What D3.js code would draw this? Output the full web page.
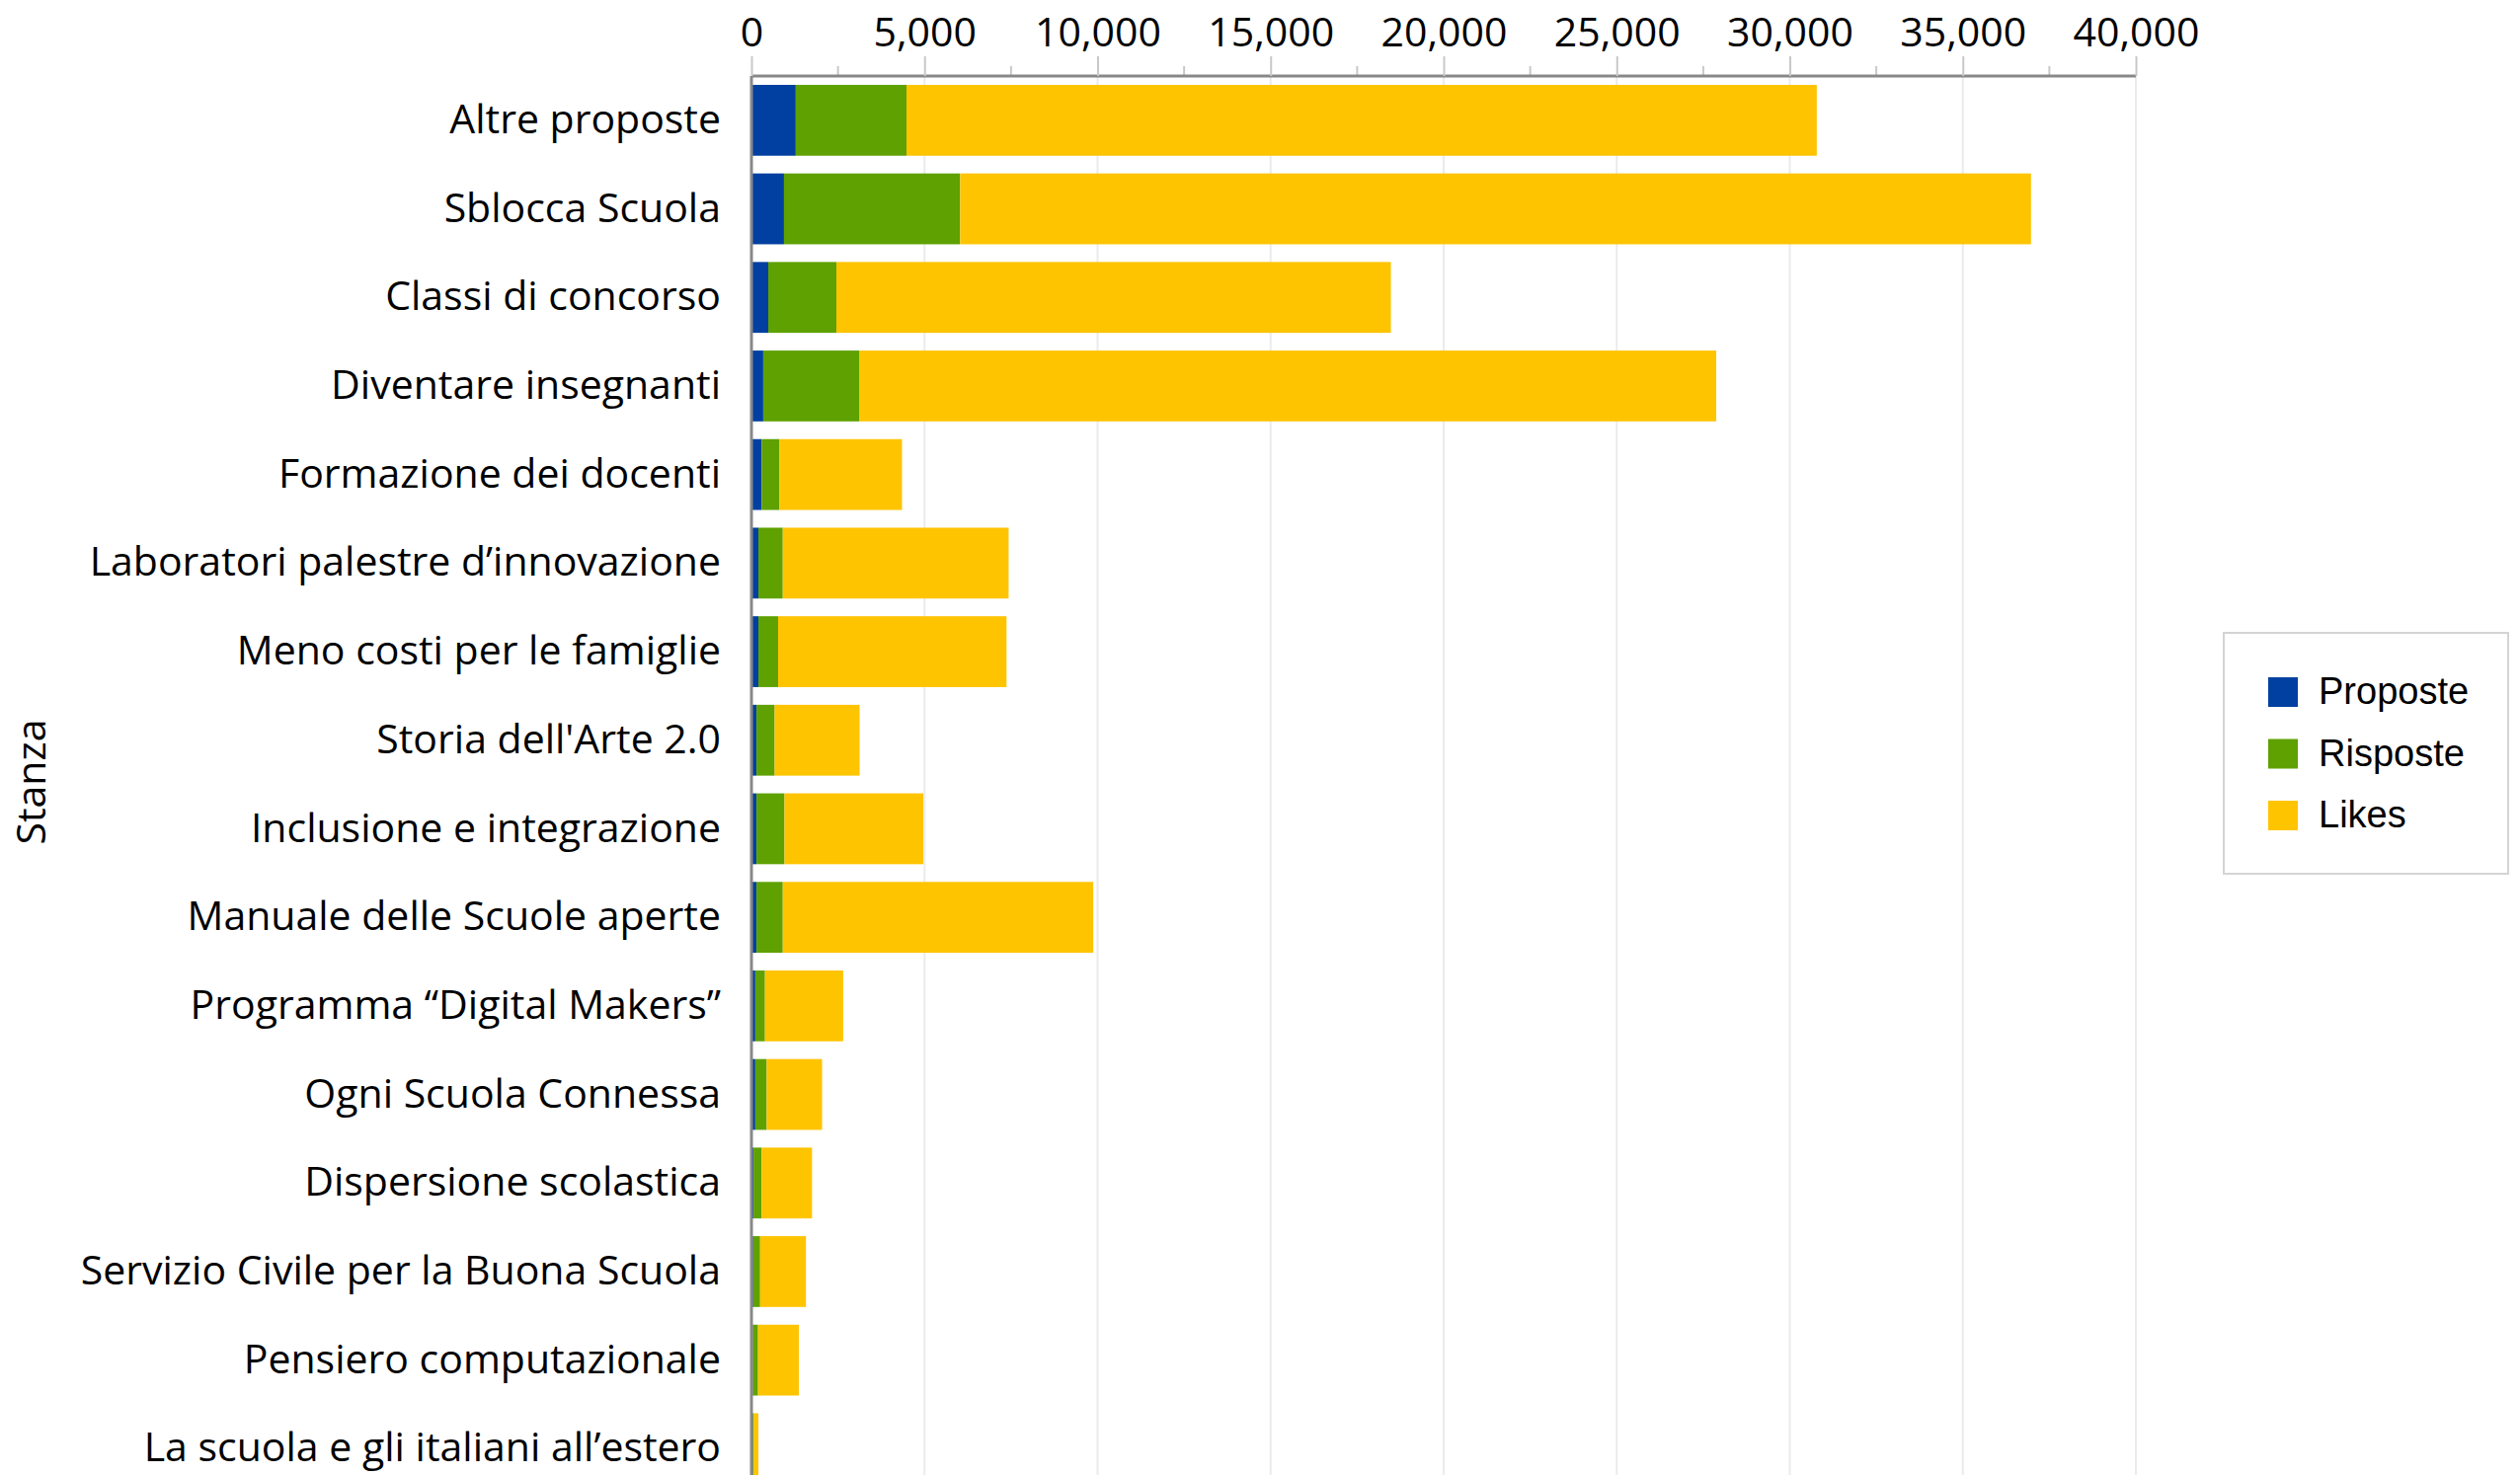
<!DOCTYPE html>
<html>
<head>
<meta charset="utf-8">
<script src="https://cdn.jsdelivr.net/npm/d3@7"></script>
<style>
  html, body { margin: 0; padding: 0; background: #fff; overflow: hidden; }
  svg { display: block; }
</style>
</head>
<body>
<div id="chart"></div>
<script>
'use strict';

// stanze (categories), top to bottom
var stanze = [
  'Altre proposte',
  'Sblocca Scuola',
  'Classi di concorso',
  'Diventare insegnanti',
  'Formazione dei docenti',
  'Laboratori palestre d\u2019innovazione',
  'Meno costi per le famiglie',
  'Storia dell\'Arte 2.0',
  'Inclusione e integrazione',
  'Manuale delle Scuole aperte',
  'Programma \u201cDigital Makers\u201d',
  'Ogni Scuola Connessa',
  'Dispersione scolastica',
  'Servizio Civile per la Buona Scuola',
  'Pensiero computazionale',
  'La scuola e gli italiani all\u2019estero'
];

var proposte = [1280, 940, 485, 340, 295, 200, 200, 145, 145, 145, 110, 110, 60, 50, 40, 30];
var risposte = [3200, 5090, 1970, 2770, 515, 705, 570, 525, 810, 760, 280, 330, 235, 200, 150, 30];
var likes    = [26300, 30940, 16020, 24765, 3540, 6525, 6600, 2455, 4010, 8970, 2260, 1600, 1455, 1325, 1180, 140];

var seriesNames = ['Proposte', 'Risposte', 'Likes'];
var seriesColors = ['#0140A0', '#5EA100', '#FFC400'];

var xTicks = [0, 5000, 10000, 15000, 20000, 25000, 30000, 35000, 40000];

(function () {
  var width = 2552, height = 1494;
  var plotLeft = 761, plotRight = 2163, plotTop = 77;
  var step = 89.7;

  var rows = stanze.map(function (s, i) {
    return { stanza: s, Proposte: proposte[i], Risposte: risposte[i], Likes: likes[i] };
  });

  var svg = d3.select('#chart').append('svg')
    .attr('width', width)
    .attr('height', height)
    .attr('viewBox', [0, 0, width, height]);

  var x = d3.scaleLinear().domain([0, 40000]).range([plotLeft, plotRight]);
  var y = d3.scaleBand()
    .domain(stanze)
    .range([plotTop, plotTop + step * stanze.length])
    .paddingInner(0.2)
    .paddingOuter(0.1);

  var labelFont = '"Open Sans", "Lucida Grande", sans-serif';

  // gridlines
  svg.append('g')
    .selectAll('line')
    .data(xTicks.slice(1))
    .join('line')
    .attr('x1', function (d) { return x(d); })
    .attr('x2', function (d) { return x(d); })
    .attr('y1', plotTop)
    .attr('y2', height)
    .attr('stroke', '#ebebeb')
    .attr('stroke-width', 2);

  // minor ticks
  svg.append('g')
    .selectAll('line')
    .data(xTicks.slice(0, -1).map(function (d) { return d + 2500; }))
    .join('line')
    .attr('x1', function (d) { return x(d); })
    .attr('x2', function (d) { return x(d); })
    .attr('y1', plotTop - 10)
    .attr('y2', plotTop)
    .attr('stroke', '#c8c8c8')
    .attr('stroke-width', 2);

  // stacked bars
  var stacked = d3.stack().keys(seriesNames)(rows);

  svg.append('g')
    .selectAll('g')
    .data(stacked)
    .join('g')
    .attr('fill', function (d, i) { return seriesColors[i]; })
    .selectAll('rect')
    .data(function (d) { return d; })
    .join('rect')
    .attr('x', function (d) { return x(d[0]); })
    .attr('y', function (d) { return y(d.data.stanza); })
    .attr('width', function (d) { return Math.max(0, x(d[1]) - x(d[0])); })
    .attr('height', y.bandwidth());

  // top axis
  var xAxis = svg.append('g')
    .attr('transform', 'translate(0,' + plotTop + ')')
    .call(d3.axisTop(x).tickValues(xTicks).tickSize(20).tickPadding(10).tickFormat(d3.format(',')));

  xAxis.select('.domain')
    .attr('stroke', '#888')
    .attr('stroke-width', 3)
    .attr('d', 'M' + plotLeft + ',0H' + plotRight);
  xAxis.selectAll('.tick line')
    .attr('stroke', '#c8c8c8')
    .attr('stroke-width', 2);
  xAxis.selectAll('.tick text')
    .attr('fill', '#000')
    .style('font-family', labelFont)
    .style('font-size', '41px');

  // left axis
  var yAxis = svg.append('g')
    .attr('transform', 'translate(' + plotLeft + ',0)')
    .call(d3.axisLeft(y).tickSize(0).tickPadding(31));

  yAxis.select('.domain')
    .attr('stroke', '#888')
    .attr('stroke-width', 3)
    .attr('d', 'M0,' + plotTop + 'V' + height);
  yAxis.selectAll('.tick text')
    .attr('fill', '#000')
    .style('font-family', labelFont)
    .style('font-size', '41px');

  // y axis title
  svg.append('text')
    .attr('transform', 'translate(46,792) rotate(-90)')
    .attr('text-anchor', 'middle')
    .style('font-family', labelFont)
    .style('font-size', '41px')
    .attr('fill', '#000')
    .text('Stanza');

  // legend
  var legend = svg.append('g');
  legend.append('rect')
    .attr('x', 2252)
    .attr('y', 641)
    .attr('width', 288)
    .attr('height', 244)
    .attr('fill', '#fff')
    .attr('stroke', '#d4d4d4')
    .attr('stroke-width', 2);

  var item = legend.selectAll('g.item')
    .data(seriesNames)
    .join('g')
    .attr('class', 'item')
    .attr('transform', function (d, i) { return 'translate(2297,' + (686 + i * 62.5) + ')'; });

  item.append('rect')
    .attr('width', 30)
    .attr('height', 30)
    .attr('fill', function (d, i) { return seriesColors[i]; });

  item.append('text')
    .attr('x', 51)
    .attr('y', 27)
    .style('font-family', '"Liberation Sans", Arial, Helvetica, sans-serif')
    .style('font-size', '38px')
    .attr('fill', '#000')
    .text(function (d) { return d; });
})();
</script>
</body>
</html>
